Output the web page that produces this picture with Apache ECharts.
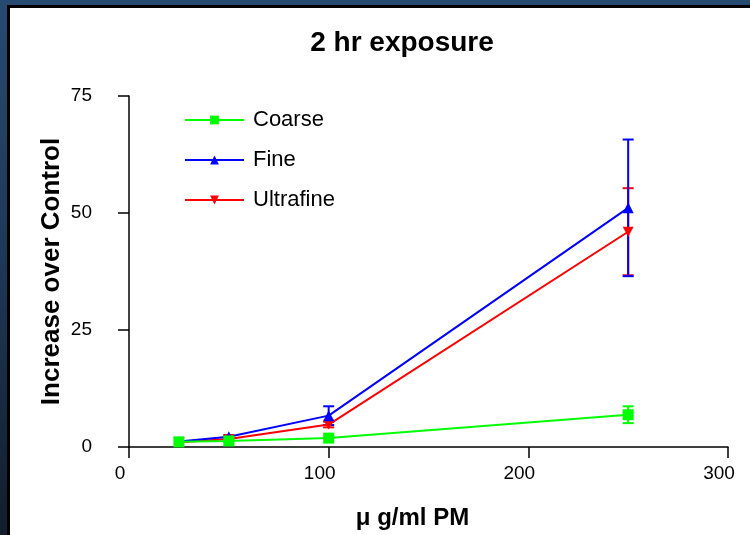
<!DOCTYPE html>
<html>
<head>
<meta charset="utf-8">
<script src="https://cdn.jsdelivr.net/npm/echarts@6/dist/echarts.min.js"></script>
<style>
  html, body { margin: 0; padding: 0; }
  body {
    width: 750px; height: 535px; position: relative; overflow: hidden;
    background: linear-gradient(to bottom, #274a71 0%, #1d3553 55%, #121d2c 100%);
  }
  #panel {
    position: absolute; left: 7px; top: 5px; right: 0; bottom: 0;
    background: #ffffff;
    border-left: 3px solid #000; border-top: 3px solid #000;
  }
  #chart { position: absolute; left: 0; top: 0; width: 750px; height: 535px; }
</style>
</head>
<body>
<div id="panel"></div>
<div id="chart"></div>
<script>
// Dose levels (µg/ml) and response means with error half-widths
const doses = [25, 50, 100, 250];
const coarse = [1.1, 1.3, 1.9, 6.9];
const coarseErr = [0, 0, 0, 1.8];
const fine = [1.2, 2.2, 6.7, 51.1];
const fineErr = [0, 0.3, 2.0, 14.6];
const ultrafine = [1.0, 1.7, 4.8, 46.0];
const ultrafineErr = [0, 0, 0.6, 9.3];
const seriesNames = ['Coarse', 'Fine', 'Ultrafine'];
const seriesColors = ['#00ff00', '#0000ff', '#ff0000'];
const yTicks = [0, 25, 50, 75];
const xTicks = [0, 100, 200, 300];

const FONT = '"Liberation Sans", Arial, Helvetica, sans-serif';

function pairs(xs, ys) { return xs.map((x, i) => [x, ys[i]]); }

function errorSeries(name, color, means, errs, z) {
  return {
    name: name + ' SE',
    type: 'custom',
    data: doses.map((x, i) => [x, means[i] - errs[i], means[i] + errs[i]])
      .filter((d, i) => errs[i] > 0),
    renderItem: function (params, api) {
      const lo = api.coord([api.value(0), api.value(1)]);
      const hi = api.coord([api.value(0), api.value(2)]);
      const hw = 5.5;
      const style = { stroke: color, lineWidth: 2 };
      return {
        type: 'group',
        children: [
          { type: 'line', shape: { x1: lo[0], y1: lo[1], x2: hi[0], y2: hi[1] }, style: style },
          { type: 'line', shape: { x1: lo[0] - hw, y1: lo[1], x2: lo[0] + hw, y2: lo[1] }, style: style },
          { type: 'line', shape: { x1: hi[0] - hw, y1: hi[1], x2: hi[0] + hw, y2: hi[1] }, style: style }
        ]
      };
    },
    z: z
  };
}

function lineSeries(name, color, means, symbol, size, z) {
  return {
    name: name,
    type: 'line',
    data: pairs(doses, means),
    symbol: symbol,
    symbolSize: size,
    showSymbol: true,
    lineStyle: { color: color, width: 2 },
    itemStyle: { color: color },
    emphasis: { disabled: true },
    animation: false,
    z: z
  };
}

const downTri = 'path://M0,0 L10,0 L5,9 Z';

const chart = echarts.init(document.getElementById('chart'), null, { renderer: 'canvas' });
chart.setOption({
  backgroundColor: 'transparent',
  animation: false,
  title: {
    text: '2 hr exposure',
    left: 397,
    textAlign: 'center',
    top: 24,
    textStyle: { fontFamily: FONT, fontSize: 28, fontWeight: 'bold', color: '#000' }
  },
  legend: {
    orient: 'vertical',
    left: 184,
    top: 108,
    padding: 0,
    itemWidth: 59,
    itemHeight: 11,
    itemGap: 16,
    data: seriesNames,
    textStyle: { fontFamily: FONT, fontSize: 22, color: '#000', lineHeight: 24, padding: [0, 0, 0, 4] }
  },
  grid: { left: 129, right: 22, top: 96, bottom: 88 },
  xAxis: {
    type: 'value',
    min: xTicks[0],
    max: xTicks[xTicks.length - 1],
    interval: 100,
    name: 'μ g/ml PM',
    nameLocation: 'middle',
    nameGap: 59,
    nameTextStyle: { fontFamily: FONT, fontSize: 24, fontWeight: 'bold', color: '#000', padding: [0, 32, 0, 0] },
    axisLine: { show: true, onZero: false, lineStyle: { color: '#000', width: 1.5 } },
    axisTick: { show: true, inside: false, length: 11, lineStyle: { color: '#000', width: 1.5 } },
    axisLabel: { fontFamily: FONT, fontSize: 19, color: '#000', margin: 17, padding: [0, 18, 0, 0] },
    splitLine: { show: false }
  },
  yAxis: {
    type: 'value',
    min: yTicks[0],
    max: yTicks[yTicks.length - 1],
    interval: 25,
    name: 'Increase over Control',
    nameLocation: 'middle',
    nameGap: 64,
    nameMoveOverlap: false,
    nameRotate: 90,
    nameTextStyle: { fontFamily: FONT, fontSize: 26, fontWeight: 'bold', color: '#000' },
    axisLine: { show: true, lineStyle: { color: '#000', width: 1.5 } },
    axisTick: { show: true, inside: false, length: 11, lineStyle: { color: '#000', width: 1.5 } },
    axisLabel: { fontFamily: FONT, fontSize: 19, color: '#000', margin: 37 },
    splitLine: { show: false }
  },
  series: [
    errorSeries('Ultrafine', seriesColors[2], ultrafine, ultrafineErr, 2),
    errorSeries('Fine', seriesColors[1], fine, fineErr, 2),
    lineSeries('Ultrafine', seriesColors[2], ultrafine, downTri, [11, 10], 3),
    lineSeries('Fine', seriesColors[1], fine, 'triangle', 11, 3),
    errorSeries('Coarse', seriesColors[0], coarse, coarseErr, 4),
    lineSeries('Coarse', seriesColors[0], coarse, 'rect', 11, 5)
  ]
});
</script>
</body>
</html>
